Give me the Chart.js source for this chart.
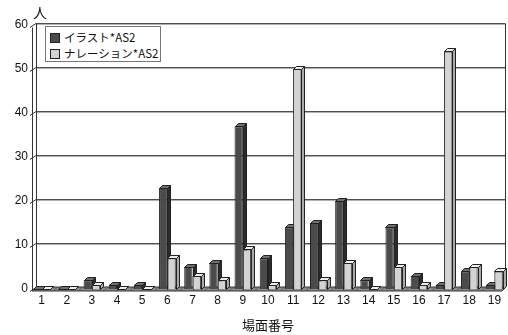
<!DOCTYPE html>
<html>
<head>
<meta charset="utf-8">
<script src="https://cdn.jsdelivr.net/npm/chart.js@4.4.1/dist/chart.umd.min.js"></script>
<style>
  html, body { margin: 0; padding: 0; background: #fff; }
  #wrap { position: relative; width: 508px; height: 335px; }
  #unit { position: absolute; left: 33px; top: 2px; font: 14px "Noto Sans CJK JP", sans-serif; color: #111; }
  #legend {
    position: absolute; left: 45px; top: 26px; width: 116px; height: 36px;
    border: 1px solid #777; background: #fff; box-sizing: border-box;
    font: 11.5px "Noto Sans CJK JP", sans-serif; color: #111; padding: 2px 0 0 4px;
  }
  .item { height: 16px; line-height: 16px; white-space: nowrap; }
  .sw { display: inline-block; width: 8px; height: 8px; border: 1px solid #222; margin-right: 4px; vertical-align: -1px; }
</style>
</head>
<body>
<div id="wrap">
  <canvas id="chart" width="508" height="335"></canvas>
  <div id="unit">人</div>
  <div id="legend"></div>
</div>
<script>
// data
const categories = ['1','2','3','4','5','6','7','8','9','10','11','12','13','14','15','16','17','18','19'];
const seriesNames = ['イラスト*AS2', 'ナレーション*AS2'];
const illustValues = [0, 0, 2, 1, 1, 23, 5, 6, 37, 7, 14, 15, 20, 2, 14, 3, 1, 4, 1];
const narrationValues = [0, 0, 1, 0, 0, 7, 3, 2, 9, 1, 50, 2, 6, 0, 5, 1, 54, 5, 4];
const yTicks = [0, 10, 20, 30, 40, 50, 60];

const faceColors = ['#4b4b4b', '#d3d3d3'];
const topColors = ['#707070', '#ededed'];
const sideColors = ['#2b2b2b', '#a9a9a9'];
const DEPTH = 3;

function drawCaps(ctx, meta, i) {
  ctx.save();
  ctx.lineWidth = 1;
  ctx.strokeStyle = '#222';
  meta.data.forEach(bar => {
    const { x, y, base, width } = bar.getProps(['x', 'y', 'base', 'width'], true);
    const l = Math.round(x - width / 2) + 0.5, r = Math.round(x + width / 2) + 0.5;
    const t = Math.round(y) + 0.5, b = Math.round(base) + 0.5;
    // top
    ctx.fillStyle = topColors[i];
    ctx.beginPath();
    ctx.moveTo(l, t);
    ctx.lineTo(l + DEPTH, t - DEPTH);
    ctx.lineTo(r + DEPTH, t - DEPTH);
    ctx.lineTo(r, t);
    ctx.closePath();
    ctx.fill();
    ctx.stroke();
    // side
    ctx.fillStyle = sideColors[i];
    ctx.beginPath();
    ctx.moveTo(r, t);
    ctx.lineTo(r + DEPTH, t - DEPTH);
    ctx.lineTo(r + DEPTH, b - DEPTH);
    ctx.lineTo(r, b);
    ctx.closePath();
    ctx.fill();
    ctx.stroke();
  });
  ctx.restore();
}

// back wall, side wall, floor and bar depth (fake 3d)
const wallPlugin = {
  id: 'wall',
  beforeDatasetsDraw(chart) {
    const { ctx, chartArea } = chart;
    const y = chart.scales.y, x = chart.scales.x;
    const xf = chartArea.left + 3;
    const xb = xf + 4;
    const right = chartArea.right - 2;
    const y0 = y.getPixelForValue(0);
    ctx.save();
    ctx.lineWidth = 1;
    yTicks.forEach(v => {
      const py = Math.round(y.getPixelForValue(v)) + 0.5;
      ctx.strokeStyle = '#505050';
      ctx.beginPath();
      ctx.moveTo(xb, py - 2);
      ctx.lineTo(right, py - 2);
      ctx.stroke();
      ctx.strokeStyle = '#b0b0b0';
      ctx.beginPath();
      ctx.moveTo(xb, py - 1);
      ctx.lineTo(right, py - 1);
      ctx.stroke();
      ctx.strokeStyle = '#333';
      ctx.beginPath();
      ctx.moveTo(xf - 2, py + 2);
      ctx.lineTo(xb, py - 2);
      ctx.stroke();
    });
    const yTop = Math.round(y.getPixelForValue(60)) + 0.5;
    ctx.strokeStyle = '#333';
    ctx.beginPath();
    ctx.moveTo(xf + 0.5, y0 + 2);
    ctx.lineTo(xf + 0.5, yTop + 2);
    ctx.moveTo(xb + 0.5, y0 - 2);
    ctx.lineTo(xb + 0.5, yTop - 2);
    ctx.moveTo(right + 0.5, y0 - 2);
    ctx.lineTo(right + 0.5, yTop - 2);
    ctx.stroke();
    ctx.fillStyle = '#8c8c8c';
    ctx.strokeStyle = '#333';
    ctx.beginPath();
    ctx.moveTo(xf, y0 + 2);
    ctx.lineTo(right - 3, y0 + 2);
    ctx.lineTo(right + 1, y0 - 2);
    ctx.lineTo(xb, y0 - 2);
    ctx.closePath();
    ctx.fill();
    ctx.stroke();
    ctx.strokeStyle = '#555';
    for (let i = 1; i < categories.length; i++) {
      const px = Math.round((x.getPixelForTick(i - 1) + x.getPixelForTick(i)) / 2) + 0.5;
      ctx.beginPath();
      ctx.moveTo(px - 1, y0 + 2);
      ctx.lineTo(px + 3, y0 - 2);
      ctx.stroke();
    }
    ctx.restore();
  },
  afterDatasetsDraw(chart) {
    const { ctx } = chart;
    // dark series depth first, then repaint the light series over it
    drawCaps(ctx, chart.getDatasetMeta(0), 0);
    const light = chart.getDatasetMeta(1);
    light.data.forEach(bar => bar.draw(ctx, chart.chartArea));
    drawCaps(ctx, light, 1);
  }
};

const legend = document.getElementById('legend');
seriesNames.forEach((name, i) => {
  const row = document.createElement('div');
  row.className = 'item';
  const sw = document.createElement('span');
  sw.className = 'sw';
  sw.style.background = faceColors[i];
  row.appendChild(sw);
  row.appendChild(document.createTextNode(name));
  legend.appendChild(row);
});

const ctx = document.getElementById('chart').getContext('2d');
new Chart(ctx, {
  type: 'bar',
  data: {
    labels: categories,
    datasets: [{
      label: seriesNames[0],
      data: illustValues,
      backgroundColor: faceColors[0],
      borderColor: '#1e1e1e',
      borderWidth: 1
    }, {
      label: seriesNames[1],
      data: narrationValues,
      backgroundColor: faceColors[1],
      borderColor: '#3a3a3a',
      borderWidth: 1
    }]
  },
  options: {
    responsive: false,
    animation: false,
    layout: { padding: { top: 25, right: 1, bottom: 0, left: 0 } },
    datasets: { bar: { categoryPercentage: 0.66, barPercentage: 1.0 } },
    scales: {
      x: {
        grid: { display: false, drawTicks: false },
        border: { display: false },
        ticks: { color: '#111', font: { family: 'Liberation Sans', size: 12 }, padding: 4, maxRotation: 0, autoSkip: false },
        title: { display: true, text: '場面番号', color: '#111', font: { family: 'Noto Sans CJK JP', size: 13 }, padding: { top: 0, bottom: 2 } },
        afterFit(scale) { scale.height = 46; }
      },
      y: {
        min: 0,
        max: 60,
        grid: { display: false, drawTicks: false },
        border: { display: false },
        ticks: { stepSize: 10, color: '#111', font: { family: 'Liberation Sans', size: 12 }, padding: 1 },
        afterFit(scale) { scale.width = 29; }
      }
    },
    plugins: {
      legend: { display: false },
      tooltip: { enabled: false }
    }
  },
  plugins: [wallPlugin]
});
</script>
</body>
</html>
